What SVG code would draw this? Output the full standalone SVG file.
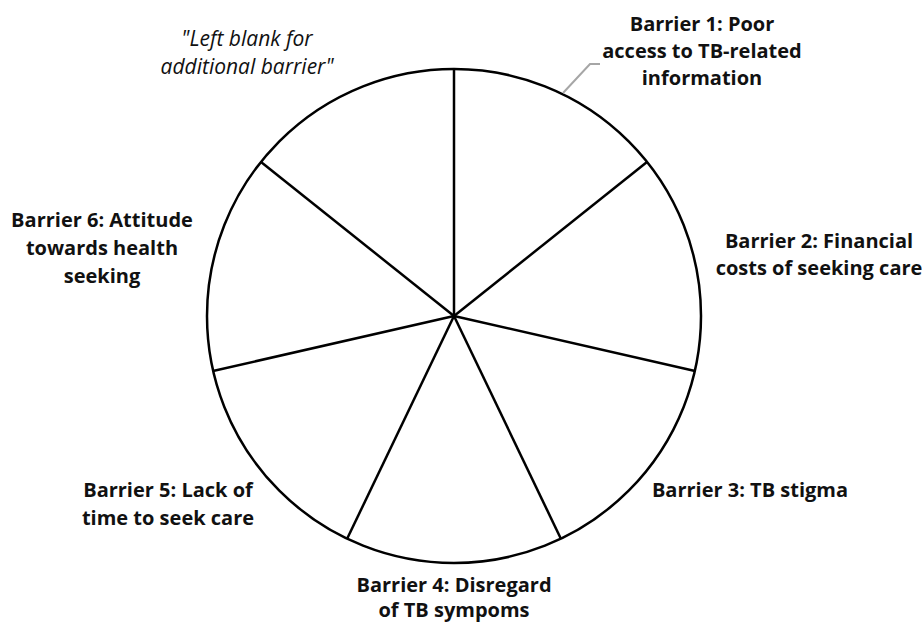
<svg xmlns="http://www.w3.org/2000/svg" width="922" height="622" viewBox="0 0 922 622">
<style>
.lbl{font-family:"Open Sans","Liberation Sans",sans-serif;font-weight:bold;font-size:20px;fill:#111;text-anchor:middle}
.note{font-family:"Open Sans","Liberation Sans",sans-serif;font-style:italic;font-size:21px;fill:#111;text-anchor:middle}
.ln{stroke:#000;stroke-width:2.5;fill:none}
</style>
<rect width="922" height="622" fill="#fff"/>
<g id="wheel">
<circle cx="454" cy="316" r="247" class="ln"/>
</g>
<g id="connectors">
<line class="ln" x1="454" y1="316" x2="454" y2="69"/>
<line class="ln" x1="454" y1="316" x2="647" y2="162"/>
<line class="ln" x1="454" y1="316" x2="695" y2="371"/>
<line class="ln" x1="454" y1="316" x2="561" y2="539"/>
<line class="ln" x1="454" y1="316" x2="347" y2="539"/>
<line class="ln" x1="454" y1="316" x2="213" y2="371"/>
<line class="ln" x1="454" y1="316" x2="261" y2="162"/>
<polyline points="563,93 590,64 600,64" fill="none" stroke="#a6a6a6" stroke-width="2"/>
</g>
<g id="barrier1">
<text class="lbl" x="702" y="31">Barrier 1: Poor</text>
<text class="lbl" x="702" y="58">access to TB-related</text>
<text class="lbl" x="702" y="85">information</text>
</g>
<g id="barrier2">
<text class="lbl" x="819" y="248">Barrier 2: Financial</text>
<text class="lbl" x="819" y="275">costs of seeking care</text>
</g>
<g id="barrier3">
<text class="lbl" x="750" y="497">Barrier 3: TB stigma</text>
</g>
<g id="barrier4">
<text class="lbl" x="454" y="592">Barrier 4: Disregard</text>
<text class="lbl" x="454" y="617">of TB sympoms</text>
</g>
<g id="barrier5">
<text class="lbl" x="168" y="497">Barrier 5: Lack of</text>
<text class="lbl" x="168" y="525">time to seek care</text>
</g>
<g id="barrier6">
<text class="lbl" x="102" y="227">Barrier 6: Attitude</text>
<text class="lbl" x="102" y="255">towards health</text>
<text class="lbl" x="102" y="283">seeking</text>
</g>
<g id="blank">
<text class="note" x="247" y="46">"Left blank for</text>
<text class="note" x="247" y="74">additional barrier"</text>
</g>
</svg>
